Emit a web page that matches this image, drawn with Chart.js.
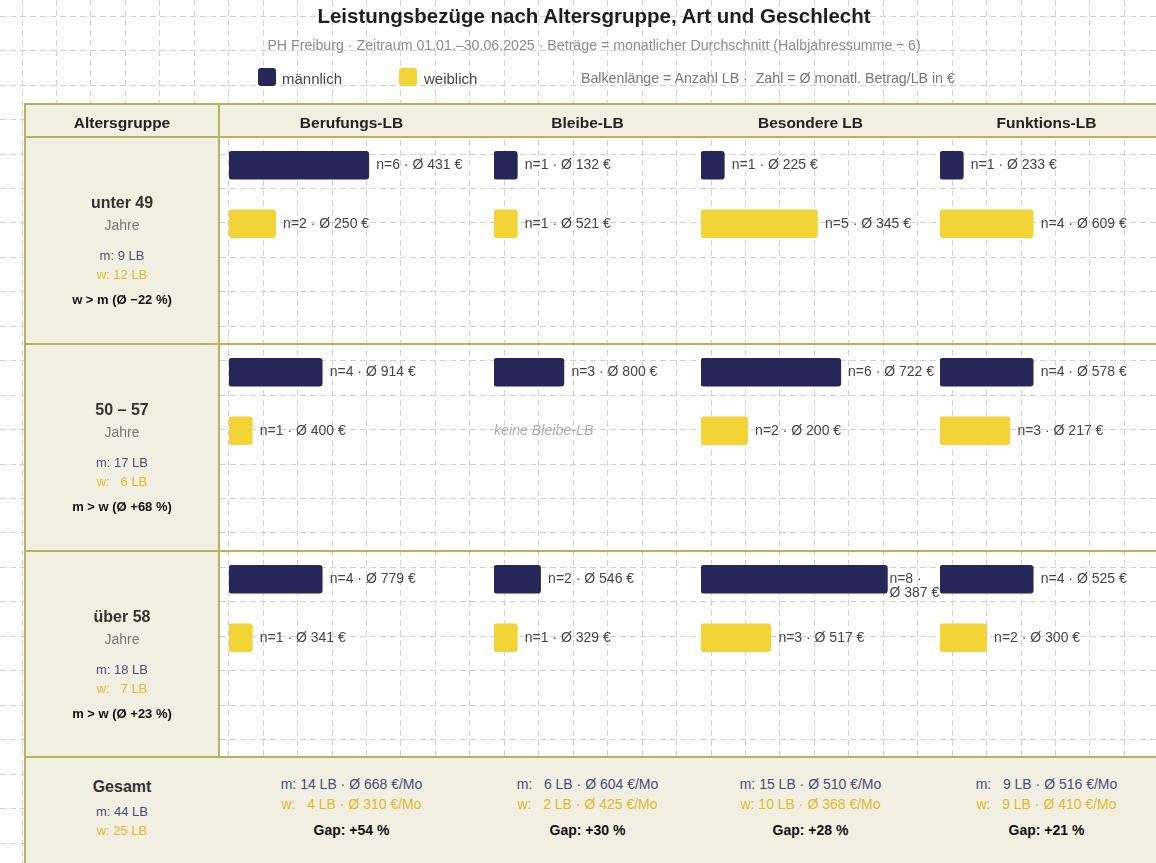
<!DOCTYPE html>
<html lang="de"><head><meta charset="utf-8">
<script src="https://cdn.jsdelivr.net/npm/chart.js@4.4.1/dist/chart.umd.min.js"></script>
<style>
html,body{margin:0;padding:0;background:#fff;overflow:hidden;}
#page{position:relative;width:1188px;height:863px;font-family:"Liberation Sans",Arial,sans-serif;overflow:hidden;}
.t{position:absolute;white-space:pre;line-height:1;transform:translate(-50%,-50%);z-index:4;}
.tl{position:absolute;white-space:pre;line-height:1;transform:translateY(-50%);z-index:4;}
.box{position:absolute;}
canvas{position:absolute;}
</style></head><body><div id="page"></div><script>
// ---------- DATA ----------
const ageGroups = ['unter 49', '50 – 57', 'über 58'];
const lbTypes = ['Berufungs-LB', 'Bleibe-LB', 'Besondere LB', 'Funktions-LB'];
const maleCount   = [[6, 1, 1, 1], [4, 3, 6, 4], [4, 2, 8, 4]];
const maleAvg     = [[431, 132, 225, 233], [914, 800, 722, 578], [779, 546, 387, 525]];
const femaleCount = [[2, 1, 5, 4], [1, 0, 2, 3], [1, 1, 3, 2]];
const femaleAvg   = [[250, 521, 345, 609], [400, 0, 200, 217], [341, 329, 517, 300]];

// ---------- STYLE / LAYOUT ----------
const NAVY = '#262659', GOLD = '#f3d437';
const M_TXT = '#4b4b7d', W_TXT = '#e0bc26';
const BG = '#f0efe2', LINE = '#b6b25e', GRID = '#d2d2d2';
const FONT = '"Liberation Sans", Arial, sans-serif';
const PAGE_W = 1188, PAGE_H = 863;
const TL = 25, TR = 1163, TT = 104, HB = 137;
const rowTops = [137, 344, 551], ROW_END = 757;
const colX = [219, 484, 691, 930, 1163];
const UNIT = 23.3;
const GRID_STEP = 34.45;

const page = document.getElementById('page');
function el(tag, cls, css) { const e = document.createElement(tag); if (cls) e.className = cls; Object.assign(e.style, css || {}); page.appendChild(e); return e; }
function text(t, x, y, css, left) { const e = el('div', left ? 'tl' : 't', Object.assign({ left: x + 'px', top: y + 'px' }, css || {})); e.textContent = t; return e; }
function box(x, y, w, h, bg, z) { return el('div', 'box', { left: x + 'px', top: y + 'px', width: w + 'px', height: h + 'px', background: bg, zIndex: z || 1 }); }

// ---------- background grid (Chart.js) ----------
const bgC = el('canvas', '', { left: '0px', top: '0px', width: PAGE_W + 'px', height: PAGE_H + 'px', zIndex: 0 });
bgC.width = PAGE_W; bgC.height = PAGE_H;
const gx = []; for (let v = 22; v < PAGE_W; v += GRID_STEP) gx.push(v);
const gy = []; for (let v = 16.2; v < PAGE_H; v += GRID_STEP) gy.push(v);
new Chart(bgC, {
  type: 'scatter', data: { datasets: [] },
  options: {
    responsive: false, animation: false, events: [], layout: { padding: 0 },
    plugins: { legend: { display: false }, tooltip: { enabled: false } },
    scales: {
      x: { type: 'linear', min: 0, max: PAGE_W, afterBuildTicks: s => { s.ticks = gx.map(v => ({ value: v })); },
           ticks: { display: false }, border: { display: false, dash: [6, 4] }, grid: { color: GRID, drawTicks: false, lineWidth: 1 } },
      y: { type: 'linear', reverse: true, min: 0, max: PAGE_H, afterBuildTicks: s => { s.ticks = gy.map(v => ({ value: v })); },
           ticks: { display: false }, border: { display: false, dash: [6, 4] }, grid: { color: GRID, drawTicks: false, lineWidth: 1 } }
    }
  }
});

// ---------- title, subtitle, legend ----------
text('Leistungsbezüge nach Altersgruppe, Art und Geschlecht', 594, 16, { font: 'bold 20.5px ' + FONT, color: '#1e1e1e' });
text('PH Freiburg · Zeitraum 01.01.–30.06.2025 · Beträge = monatlicher Durchschnitt (Halbjahressumme ÷ 6)', 594, 45, { font: '14.2px ' + FONT, color: '#8c8c8c' });
box(258, 68, 18, 18, NAVY, 3).style.borderRadius = '3px';
text('männlich', 282, 78, { font: '15px ' + FONT, color: '#444' }, true);
box(399, 68, 18, 18, GOLD, 3).style.borderRadius = '3px';
text('weiblich', 424, 78, { font: '15px ' + FONT, color: '#444' }, true);
text('Balkenlänge = Anzahl LB ·  Zahl = Ø monatl. Betrag/LB in €', 581, 78, { font: '14.2px ' + FONT, color: '#777' }, true);

// ---------- table frame ----------
box(TL, TT, TR - TL, HB - TT, BG, 1);
box(TL, HB, colX[0] - TL, ROW_END - HB, BG, 1);
box(TL, ROW_END, TR - TL, 140, BG, 1);
[TT, HB, rowTops[1], rowTops[2], ROW_END].forEach(y => box(TL - 1, y - 1, TR - TL + 2, 2, LINE, 2));
box(TL - 1, TT - 1, 2, 900, LINE, 2);
box(colX[0] - 1, TT - 1, 2, ROW_END - TT + 2, LINE, 2);

// header
text('Altersgruppe', (TL + colX[0]) / 2, 122.5, { font: 'bold 15.5px ' + FONT, color: '#222' });
lbTypes.forEach((t, c) => text(t, (colX[c] + colX[c + 1]) / 2, 122.5, { font: 'bold 15.5px ' + FONT, color: '#222' }));

// helpers
const sum = a => a.reduce((p, v) => p + v, 0);
function wAvg(counts, avgs) { const n = sum(counts); return n ? sum(counts.map((k, i) => k * avgs[i])) / n : 0; }
const padTo = (n, digits) => '  '.repeat(Math.max(0, digits - String(n).length)) + n;

// ---------- row label cells ----------
ageGroups.forEach((g, r) => {
  const top = rowTops[r], cx = (TL + colX[0]) / 2;
  const mN = sum(maleCount[r]), wN = sum(femaleCount[r]);
  const mA = wAvg(maleCount[r], maleAvg[r]), wA = wAvg(femaleCount[r], femaleAvg[r]);
  const gap = Math.round((mA - wA) / mA * 100);
  text(g, cx, top + 65.5, { font: 'bold 16px ' + FONT, color: '#333' });
  text('Jahre', cx, top + 88, { font: '14px ' + FONT, color: '#777' });
  text('m: ' + mN + ' LB', cx, top + 118, { font: '13px ' + FONT, color: M_TXT });
  text('w: ' + padTo(wN, String(mN).length) + ' LB', cx, top + 136.5, { font: '13px ' + FONT, color: W_TXT });
  text(gap < 0 ? 'w > m (Ø −' + Math.abs(gap) + ' %)' : 'm > w (Ø +' + gap + ' %)', cx, top + 161.5, { font: 'bold 13px ' + FONT, color: '#111' });
});

// ---------- bar cells (Chart.js) ----------
const barLabels = {
  id: 'barLabels',
  afterDatasetsDraw(chart, args, opts) {
    const ctx = chart.ctx, meta = chart.getDatasetMeta(0), data = chart.data.datasets[0].data;
    const x0 = chart.scales.x.getPixelForValue(0);
    meta.data.forEach((bar, i) => {
      const n = data[i], avg = opts.avgs[i];
      ctx.save();
      ctx.textBaseline = 'middle';
      if (!n) {
        ctx.font = 'italic 14.2px ' + FONT; ctx.fillStyle = '#ababab';
        ctx.fillText('keine ' + opts.typeName, x0, bar.y);
      } else {
        ctx.font = '14px ' + FONT; ctx.fillStyle = '#444';
        const t = 'n=' + n + ' · Ø ' + avg + ' €';
        const w = ctx.measureText(t).width;
        if (bar.x + 7.5 + w <= opts.limit) ctx.fillText(t, bar.x + 7.5, bar.y);
        else if (bar.x + 2 + w <= opts.limit) ctx.fillText(t, opts.limit - w, bar.y);
        else {
          ctx.fillText('n=' + n + ' ·', bar.x + 2, bar.y);
          ctx.fillText('Ø ' + avg + ' €', bar.x + 2, bar.y + 14);
        }
      }
      ctx.restore();
    });
  }
};

for (let r = 0; r < 3; r++) {
  for (let c = 0; c < 4; c++) {
    const left = colX[c] + 10, top = rowTops[r] - 1.5;
    const w = colX[c + 1] - colX[c] + 14, h = 117;
    const cv = el('canvas', '', { left: left + 'px', top: top + 'px', width: w + 'px', height: h + 'px', zIndex: 3 });
    cv.width = w; cv.height = h;
    const colors = [NAVY, GOLD];
    new Chart(cv, {
      type: 'bar',
      data: { labels: ['m', 'w'], datasets: [{ data: [maleCount[r][c], femaleCount[r][c]],
        backgroundColor: ctx => ctx.raw ? colors[ctx.dataIndex] : 'rgba(0,0,0,0)',
        barThickness: 28, borderRadius: 3, borderSkipped: false }] },
      options: {
        indexAxis: 'y', responsive: false, animation: false, events: [], layout: { padding: 0 },
        scales: { x: { display: false, min: 0, max: w / UNIT }, y: { display: false } },
        plugins: { legend: { display: false }, tooltip: { enabled: false },
          barLabels: { avgs: [maleAvg[r][c], femaleAvg[r][c]], typeName: lbTypes[c], limit: colX[c + 1] - left + 4 } }
      },
      plugins: [barLabels]
    });
  }
}

// ---------- Gesamt row ----------
const gcx = (TL + colX[0]) / 2;
const totM = sum(maleCount.map(sum)), totW = sum(femaleCount.map(sum));
text('Gesamt', gcx, 787, { font: 'bold 16px ' + FONT, color: '#333' });
text('m: ' + totM + ' LB', gcx, 811, { font: '13px ' + FONT, color: M_TXT });
text('w: ' + totW + ' LB', gcx, 830, { font: '13px ' + FONT, color: W_TXT });
lbTypes.forEach((t, c) => {
  const cx = (colX[c] + colX[c + 1]) / 2;
  const mc = maleCount.map(row => row[c]), ma = maleAvg.map(row => row[c]);
  const fc = femaleCount.map(row => row[c]), fa = femaleAvg.map(row => row[c]);
  const mN = sum(mc), wN = sum(fc), mA = wAvg(mc, ma), wA = wAvg(fc, fa);
  const gap = Math.round((mA - wA) / mA * 100);
  text('m: ' + padTo(mN, 2) + ' LB · Ø ' + Math.round(mA) + ' €/Mo', cx, 783.5, { font: '14px ' + FONT, color: M_TXT });
  text('w: ' + padTo(wN, 2) + ' LB · Ø ' + Math.round(wA) + ' €/Mo', cx, 803.5, { font: '14px ' + FONT, color: W_TXT });
  text('Gap: ' + (gap >= 0 ? '+' : '−') + Math.abs(gap) + ' %', cx, 830, { font: 'bold 14px ' + FONT, color: '#111' });
});
</script></body></html>
